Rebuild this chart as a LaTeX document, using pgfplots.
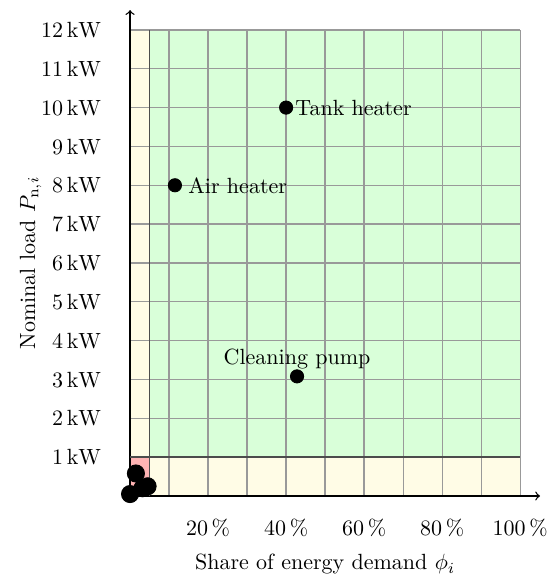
\documentclass[border=0pt]{standalone}
\usepackage{pgfplots}
\pgfplotsset{compat=1.18}
\definecolor{zgreen}{RGB}{217,255,217}
\definecolor{zyellow}{RGB}{255,252,230}
\definecolor{zred}{RGB}{255,180,180}
\begin{document}
\begin{tikzpicture}
\begin{axis}[
  set layers,
  width=177.3pt, height=211.8pt, scale only axis,
  xmin=0, xmax=100, ymin=0, ymax=12,
  axis lines=left,
  axis line style={semithick,->},
  every outer x axis line/.append style={shorten >=-9pt},
  every outer y axis line/.append style={shorten >=-9pt},
  xtick={20,40,60,80,100},
  xticklabels={$20\,\%$,$40\,\%$,$60\,\%$,$80\,\%$,$100\,\%$},
  minor xtick={10,30,50,70,90},
  ytick={1,2,...,12},
  yticklabels={$1\,\mathrm{kW}$,$2\,\mathrm{kW}$,$3\,\mathrm{kW}$,$4\,\mathrm{kW}$,$5\,\mathrm{kW}$,$6\,\mathrm{kW}$,$7\,\mathrm{kW}$,$8\,\mathrm{kW}$,$9\,\mathrm{kW}$,$10\,\mathrm{kW}$,$11\,\mathrm{kW}$,$12\,\mathrm{kW}$},
  major tick length=0pt, minor tick length=0pt,
  grid=both,
  major grid style={gray!80, line width=0.6pt},
  minor grid style={gray!80, line width=0.6pt},
  xticklabel style={yshift=-7pt},
  yticklabel style={xshift=-9.5pt},
  xlabel={Share of energy demand $\phi_i$},
  ylabel={Nominal load $P_{\mathrm{n},i}$},
  ylabel shift=-7pt,
  xlabel shift=1pt,
  clip=false,
]
\addplot[on layer=axis background, fill=zgreen, draw=none] coordinates {(5,1) (100,1) (100,12) (5,12)} -- cycle;
\addplot[on layer=axis background, fill=zyellow, draw=none] coordinates {(0,1) (5,1) (5,12) (0,12)} -- cycle;
\addplot[on layer=axis background, fill=zyellow, draw=none] coordinates {(5,0) (100,0) (100,1) (5,1)} -- cycle;
\addplot[on layer=axis background, fill=zred, draw=none] coordinates {(0,0) (5,0) (5,1) (0,1)} -- cycle;
\addplot[black!70, line width=0.8pt] coordinates {(5,12) (5,0)};
\addplot[black!70, line width=0.8pt] coordinates {(0,1) (100,1)};
\addplot[only marks, mark=*, mark size=3.9pt, black] coordinates {(1.5,0.58) (4.5,0.25) (3.2,0.2) (0,0.05)};
\addplot[only marks, mark=*, mark size=3pt, black, nodes near coords={Tank heater}, nodes near coords style={anchor=west, xshift=0.7pt}] coordinates {(40,10)};
\addplot[only marks, mark=*, mark size=3pt, black, nodes near coords={Air heater}, nodes near coords style={anchor=west, xshift=2.6pt}] coordinates {(11.5,8)};
\addplot[only marks, mark=*, mark size=3pt, black, nodes near coords={Cleaning pump}, nodes near coords style={anchor=south, xshift=0pt, yshift=0pt}] coordinates {(42.8,3.08)};
\coordinate (SW) at (rel axis cs:0,0);
\coordinate (NE) at (rel axis cs:1,1);
\end{axis}
\pgfresetboundingbox
\path[use as bounding box] ([shift={(-59.1pt,-35.9pt)}]SW) rectangle ([shift={(15.5pt,13.6pt)}]NE);
\end{tikzpicture}
\end{document}
